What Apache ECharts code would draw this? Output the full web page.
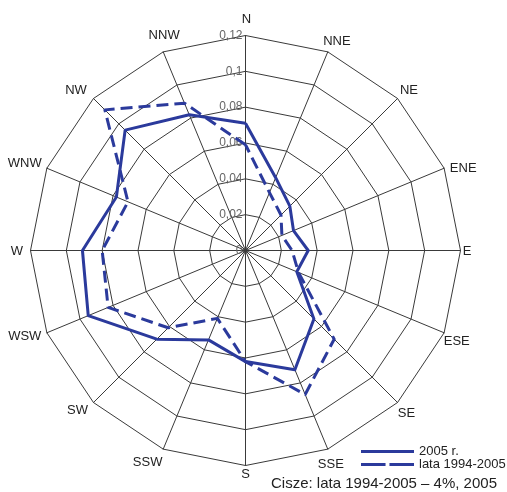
<!DOCTYPE html>
<html>
<head>
<meta charset="utf-8">
<script src="https://cdn.jsdelivr.net/npm/echarts@6/dist/echarts.min.js"></script>
<style>
html,body{margin:0;padding:0;background:#fff;}
#chart{width:507px;height:492px;}
</style>
</head>
<body>
<div id="chart"></div>
<script>
// Compass directions, clockwise from north
var directions = ['N','NNE','NE','ENE','E','ESE','SE','SSE','S','SSW','SW','WSW','W','WNW','NW','NNW'];
// Frequencies, 2005
var values2005 = [0.071,0.044,0.035,0.029,0.035,0.031,0.054,0.072,0.062,0.054,0.070,0.095,0.091,0.078,0.095,0.082];
// Frequencies, mean 1994-2005
var values9405 = [0.059,0.035,0.028,0.022,0.026,0.032,0.070,0.087,0.062,0.041,0.061,0.083,0.080,0.071,0.111,0.089];
var axisMax = 0.12;
var seriesNames = ['2005 r.', 'lata 1994-2005'];
var noteText = 'Cisze: lata 1994-2005 \u2013 4%, 2005';

// label nudges (padding [top,right,bottom,left]) for the direction names
var namePad = {
  N:[0,0,9,2], NNE:[2,0,0,9], NE:[0,0,0,6], ENE:[9,0,0,16], E:[1,11,0,0], ESE:[9,0,0,3],
  SE:[4,0,0,1], SSE:[8,3,0,0], S:[0,0,7,0], SSW:[4,22,0,0], SW:[0,15,2,0], WSW:[0,22,1,0],
  W:[1,3,0,0], WNW:[0,22,1,0], NW:[0,18,0,0], NNW:[0,0,10,11]
};

// ECharts places radar axes counter-clockwise: keep N first, reverse the rest
function reorder(arr){ return [arr[0]].concat(arr.slice(1).reverse()); }
var dirOrder = reorder(directions);
var FONT = 'Liberation Sans, Arial, sans-serif';

var indicators = dirOrder.map(function(d, i){
  var o = {name: d, min: 0, max: axisMax};
  if (i === 0) {
    o.axisLabel = {
      show: true, color: '#666', fontSize: 12, fontFamily: FONT, margin: 3,
      formatter: function(v){ return parseFloat((+v).toFixed(2)).toString().replace('.', ','); }
    };
  }
  return o;
});
var rich = {};
directions.forEach(function(d){
  rich[d] = {fontSize: 13, color: '#222', fontFamily: FONT, padding: namePad[d]};
});

var lineColor = '#2b3a9c';
var chart = echarts.init(document.getElementById('chart'), null, {renderer: 'canvas'});
chart.setOption({
  animation: false,
  backgroundColor: '#fff',
  title: {
    text: noteText, left: 271, top: 476, padding: 0,
    textStyle: {fontSize: 15, fontWeight: 'normal', color: '#222', fontFamily: FONT}
  },
  legend: {
    orient: 'vertical', left: 361, top: 445, padding: 0, itemGap: 0,
    itemWidth: 53, itemHeight: 3,
    textStyle: {fontSize: 13, lineHeight: 12, color: '#222', fontFamily: FONT},
    itemStyle: {borderWidth: 0},
    data: [
      {name: seriesNames[0], icon: 'rect'},
      {name: seriesNames[1], icon: 'path://M0,0H25V3H0Z M29,0H54V3H29Z'}
    ]
  },
  radar: {
    center: [245.5, 250.5],
    radius: 215,
    startAngle: 90,
    splitNumber: 6,
    shape: 'polygon',
    indicator: indicators,
    axisName: {
      color: '#222', fontSize: 13, fontFamily: FONT, align: 'center', verticalAlign: 'middle',
      formatter: function(name){ return '{' + name + '|' + name + '}'; },
      rich: rich
    },
    nameGap: 12,
    axisLine: {lineStyle: {color: '#3a3a3a', width: 1}},
    splitLine: {lineStyle: {color: '#3a3a3a', width: 1}},
    splitArea: {show: false},
    axisTick: {show: false}
  },
  series: [{
    type: 'radar',
    symbol: 'none',
    data: [
      {name: seriesNames[0], value: reorder(values2005),
       lineStyle: {color: lineColor, width: 3, type: 'solid'}, itemStyle: {color: lineColor}},
      {name: seriesNames[1], value: reorder(values9405),
       lineStyle: {color: lineColor, width: 3, type: [12, 6]}, itemStyle: {color: lineColor}}
    ]
  }]
});
</script>
</body>
</html>
